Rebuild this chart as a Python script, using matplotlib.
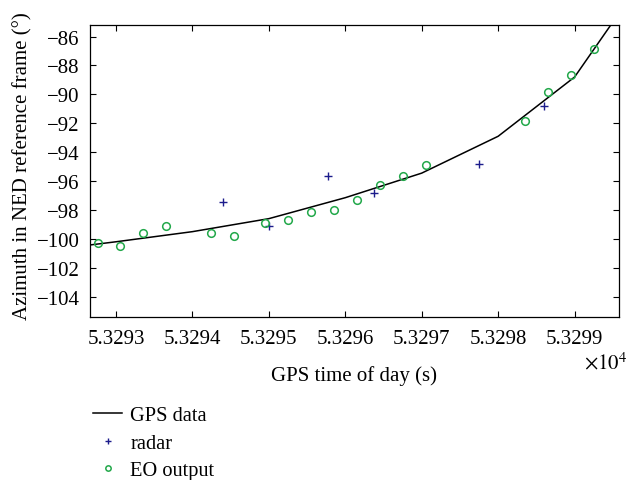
import numpy as np
import matplotlib.pyplot as plt
from matplotlib.ticker import FuncFormatter, MultipleLocator

# ---------------------------------------------------------------
# Data
# ---------------------------------------------------------------
gps_t = [53292, 53293, 53294, 53295, 53296, 53297, 53298, 53299, 53300]
gps_az = [-100.85, -100.2, -99.5, -98.6, -97.15, -95.45, -92.9, -88.8, -81.2]

radar_t = [53294.40, 53295.00, 53295.78, 53296.38, 53297.75, 53298.60]
radar_az = [-97.46, -99.08, -95.62, -96.82, -94.79, -90.82]

eo_t = [53292.76, 53293.05, 53293.36, 53293.65, 53294.25, 53294.55, 53294.95,
        53295.25, 53295.55, 53295.85, 53296.15, 53296.45, 53296.75, 53297.05,
        53298.35, 53298.65, 53298.95, 53299.25]
eo_az = [-100.28, -100.49, -99.59, -99.08, -99.61, -99.81, -98.89,
         -98.68, -98.15, -97.99, -97.30, -96.24, -95.64, -94.86,
         -91.83, -89.83, -88.65, -86.87]

# ---------------------------------------------------------------
# Plot
# ---------------------------------------------------------------
plt.rcParams['font.family'] = ['Liberation Serif', 'DejaVu Serif']
plt.rcParams['mathtext.fontset'] = 'stix'
plt.rcParams['font.size'] = 15

fig = plt.figure(figsize=(6.29, 4.81), dpi=100)
ax = fig.add_axes([0.143, 0.339, 0.841, 0.607])

ax.plot(gps_t, gps_az, color='black', lw=1.1, label='GPS data')
ax.plot(radar_t, radar_az, ls='none', marker='+', ms=6, mew=1.0,
        color='#1c1c8c', label='radar')
ax.plot(eo_t, eo_az, ls='none', marker='o', ms=5.5, mew=1.1,
        mfc='none', mec='#22a84a', label='EO output')

ax.set_xlim(53292.66, 53299.58)
ax.set_ylim(-105.4, -85.2)
ax.xaxis.set_major_locator(MultipleLocator(1))
ax.yaxis.set_major_locator(MultipleLocator(2))
ax.xaxis.set_major_formatter(FuncFormatter(lambda v, p: '%.4f' % (v / 1e4)))
ax.tick_params(direction='in', top=True, right=True, length=4, width=0.8)
ax.tick_params(axis='x', pad=9)
ax.tick_params(axis='y', pad=7.5)
for s in ax.spines.values():
    s.set_linewidth(0.9)

fig.text(627 / 629, 1 - 369 / 481, r'$\times10^4$', ha='right', va='baseline',
         fontsize=15)
ax.set_xlabel('GPS time of day (s)', labelpad=12)
ax.set_ylabel('Azimuth in NED reference frame (°)', labelpad=3, y=0.52)

fig.legend(loc='upper left', bbox_to_anchor=(0.135, 0.171), frameon=False,
           fontsize=14.7, handlelength=1.42, handletextpad=0.4,
           labelspacing=0.4, markerscale=0.7, borderaxespad=0)

fig.savefig('out.png', dpi=100)
